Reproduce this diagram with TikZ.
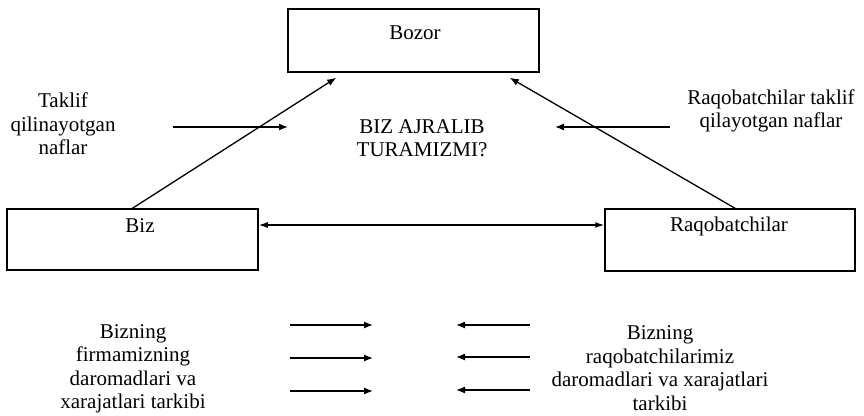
\documentclass[tikz,border=0pt]{standalone}
\usepackage{fontspec}
\setmainfont{Liberation Serif}
\usetikzlibrary{arrows.meta}
\begin{document}
\begin{tikzpicture}[x=1pt,y=-1pt,
  box/.style={draw=black,line width=1.5pt,rectangle,inner sep=0pt},
  txt/.style={align=center,inner sep=0pt,font=\fontsize{21}{23.5}\selectfont},
  arr/.style={line width=1.3pt,-{Latex[length=9pt,width=7pt]}},
  darr/.style={line width=1.3pt,{Latex[length=9pt,width=6pt]}-{Latex[length=9pt,width=6pt]}}]
\useasboundingbox (0,0) rectangle (864,415);
% boxes
\node[box,minimum width=251pt,minimum height=63pt] (bozor) at (413.5,40.5) {};
\node[box,minimum width=251pt,minimum height=61pt] (biz) at (132.5,239.5) {};
\node[box,minimum width=250pt,minimum height=62pt] (raq) at (730,240) {};
\node[txt] (tbozor) at (415,33) {Bozor};
\node[txt] (tbiz) at (140,226) {Biz};
\node[txt] (traq) at (729,226) {Raqobatchilar};
% texts
\node[txt] (taklif) at (63,124) {Taklif\\qilinayotgan\\naflar};
\node[txt] (savol) at (422,138) {BIZ AJRALIB\\TURAMIZMI?};
\node[txt] (rtaklif) at (771,111) {Raqobatchilar taklif\\qilayotgan naflar};
\node[txt] (bizning) at (133,369) {Bizning\\firmamizning\\daromadlari va\\xarajatlari tarkibi};
\node[txt] (rbizning) at (660,368) {Bizning\\raqobatchilarimiz\\daromadlari va xarajatlari\\tarkibi};
% main connectors
\draw[arr] (biz.north) -- ([xshift=49pt,yshift=-5pt]bozor.south west);
\draw[arr] ([xshift=5pt]raq.north) -- ([xshift=-30pt,yshift=-5pt]bozor.south east);
\draw[darr] ([yshift=14.5pt]biz.east) -- ([yshift=15pt]raq.west);
% offer arrows
\coordinate (l1) at (173,127); \coordinate (l2) at (288,127);
\coordinate (r1) at (670,127); \coordinate (r2) at (555,127);
\draw[arr] (l1) -- (l2);
\draw[arr] (r1) -- (r2);
% bottom arrows
\coordinate (a1) at (290,325); \coordinate (a2) at (373,325);
\coordinate (b1) at (290,358); \coordinate (b2) at (373,358);
\coordinate (c1) at (290,391); \coordinate (c2) at (373,391);
\draw[arr] (a1) -- (a2);
\draw[arr] (b1) -- (b2);
\draw[arr] (c1) -- (c2);
\coordinate (d1) at (530,325); \coordinate (d2) at (456,325);
\coordinate (e1) at (530,357); \coordinate (e2) at (456,357);
\coordinate (f1) at (530,390); \coordinate (f2) at (456,390);
\draw[arr] (d1) -- (d2);
\draw[arr] (e1) -- (e2);
\draw[arr] (f1) -- (f2);
\end{tikzpicture}
\end{document}
